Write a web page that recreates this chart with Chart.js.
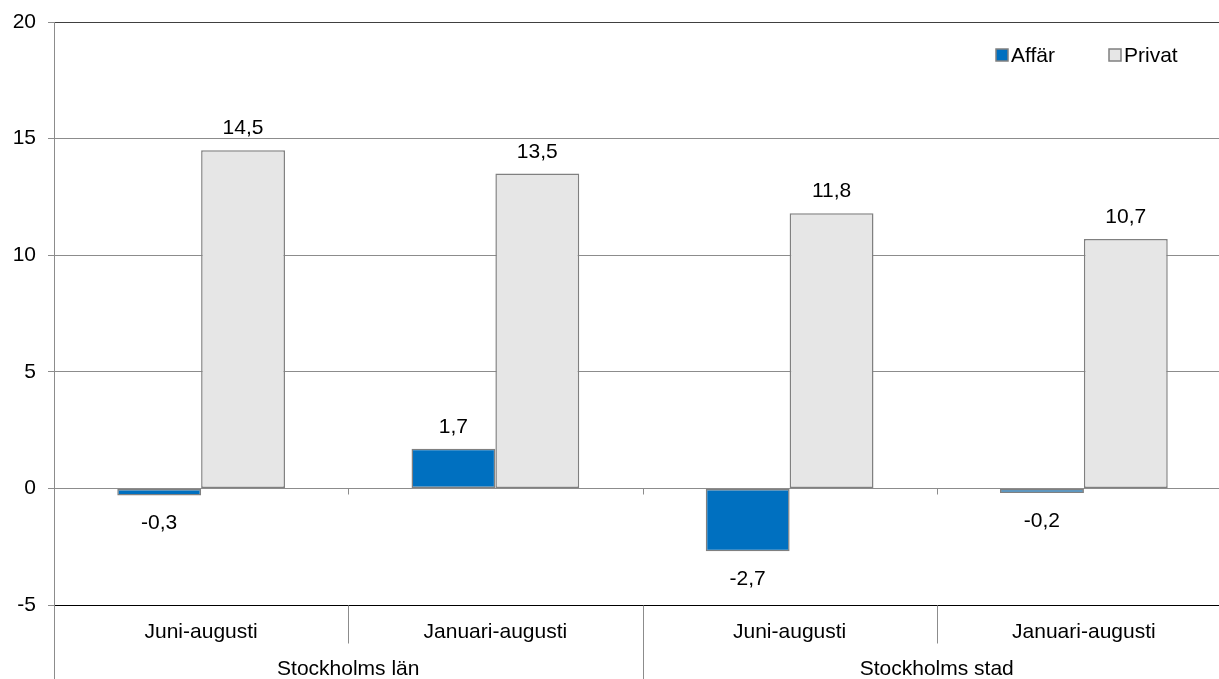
<!DOCTYPE html>
<html>
<head>
<meta charset="utf-8">
<script src="https://cdn.jsdelivr.net/npm/chart.js@4"></script>
<style>
  html, body { margin: 0; padding: 0; background: #fff; overflow: hidden; }
  #wrap { width: 1240px; height: 679px; }
</style>
</head>
<body>
<div id="wrap"><canvas id="chart" width="1240" height="679"></canvas></div>
<script>
// Chart data
const categories = ["Juni-augusti", "Januari-augusti", "Juni-augusti", "Januari-augusti"];
const groups = ["Stockholms län", "Stockholms stad"];
const affar = [-0.3, 1.7, -2.7, -0.2];
const privat = [14.5, 13.5, 11.8, 10.7];
const yTicks = [-5, 0, 5, 10, 15, 20];

const FONT = "Liberation Sans, Arial, sans-serif";
const SIZE = 21;
const fmt = v => v.toFixed(1).replace(".", ",");

// draws value labels, category/group labels, separators and legend
const extras = {
  id: "extras",
  afterDatasetsDraw(chart) {
    const { ctx, chartArea: area, scales: { x, y } } = chart;
    const catW = (area.right - area.left) / categories.length;
    const y0 = Math.round(y.getPixelForValue(0)) + 0.5;
    const bottom = Math.round(area.bottom) + 0.5;

    ctx.save();
    ctx.strokeStyle = "#8c8c8c";
    ctx.lineWidth = 1;

    // tick marks on the zero line
    for (let i = 1; i < categories.length; i++) {
      const xp = Math.round(area.left + i * catW) + 0.5;
      ctx.beginPath(); ctx.moveTo(xp, y0); ctx.lineTo(xp, y0 + 6); ctx.stroke();
    }

    // separators below the axis
    for (let i = 0; i <= categories.length; i++) {
      const xp = Math.round(area.left + i * catW) + 0.5;
      const end = i % 2 === 0 ? chart.height : bottom + 38;
      ctx.beginPath(); ctx.moveTo(xp, bottom); ctx.lineTo(xp, end); ctx.stroke();
    }

    ctx.fillStyle = "#000";
    ctx.font = SIZE + "px " + FONT;
    ctx.textAlign = "center";
    ctx.textBaseline = "alphabetic";

    // sub-category labels
    categories.forEach((c, i) => ctx.fillText(c, x.getPixelForValue(i), 638));
    // group labels
    groups.forEach((g, i) => ctx.fillText(g, area.left + (i * 2 + 1) * catW, 675));

    // value labels
    chart.data.datasets.forEach((ds, di) => {
      chart.getDatasetMeta(di).data.forEach((bar, i) => {
        const v = ds.data[i];
        if (v >= 0) ctx.fillText(fmt(v), bar.x, bar.y - 16);
        else ctx.fillText(fmt(v), bar.x, bar.y + 34);
      });
    });

    // legend
    const legend = [[996, 0], [1109, 1]];
    ctx.textAlign = "left";
    legend.forEach(([lx, di]) => {
      const ds = chart.data.datasets[di];
      ctx.fillStyle = ds.backgroundColor;
      ctx.fillRect(lx, 49, 12, 12);
      ctx.strokeStyle = "#808080";
      ctx.lineWidth = 1.5;
      ctx.strokeRect(lx, 49, 12, 12);
      ctx.fillStyle = "#000";
      ctx.fillText(ds.label, lx + 15, 62);
    });
    ctx.restore();
  }
};

new Chart(document.getElementById("chart"), {
  type: "bar",
  data: {
    labels: categories,
    datasets: [{
      label: "Affär",
      data: affar,
      backgroundColor: "#0070c0",
      borderColor: "#808080",
      borderWidth: 1.5,
      borderSkipped: false,
      categoryPercentage: 0.57,
      barPercentage: 1
    }, {
      label: "Privat",
      data: privat,
      backgroundColor: "#e6e6e6",
      borderColor: "#808080",
      borderWidth: 1.5,
      borderSkipped: false,
      categoryPercentage: 0.57,
      barPercentage: 1
    }]
  },
  options: {
    responsive: false,
    animation: false,
    devicePixelRatio: 1,
    layout: { padding: { top: 22, right: 9, left: 0, bottom: 0 } },
    plugins: { legend: { display: false }, tooltip: { enabled: false } },
    scales: {
      x: {
        grid: { display: false },
        border: { display: true, color: "#000", width: 1 },
        ticks: { display: false },
        afterFit: s => { s.height = 74; s.paddingLeft = 0; s.paddingRight = 0; }
      },
      y: {
        min: -5,
        max: 20,
        afterBuildTicks: s => { s.ticks = yTicks.map(v => ({ value: v })); },
        ticks: {
          color: "#000",
          font: { family: FONT, size: SIZE },
          padding: 12
        },
        grid: {
          color: c => c.tick.value === 20 ? "#404040" : "#8c8c8c",
          tickLength: 6,
          tickColor: "#8c8c8c"
        },
        border: { display: true, color: "#8c8c8c" },
        afterFit: s => { s.width = 54; s.paddingTop = 0; s.paddingBottom = 0; }
      }
    }
  },
  plugins: [extras]
});
</script>
</body>
</html>
